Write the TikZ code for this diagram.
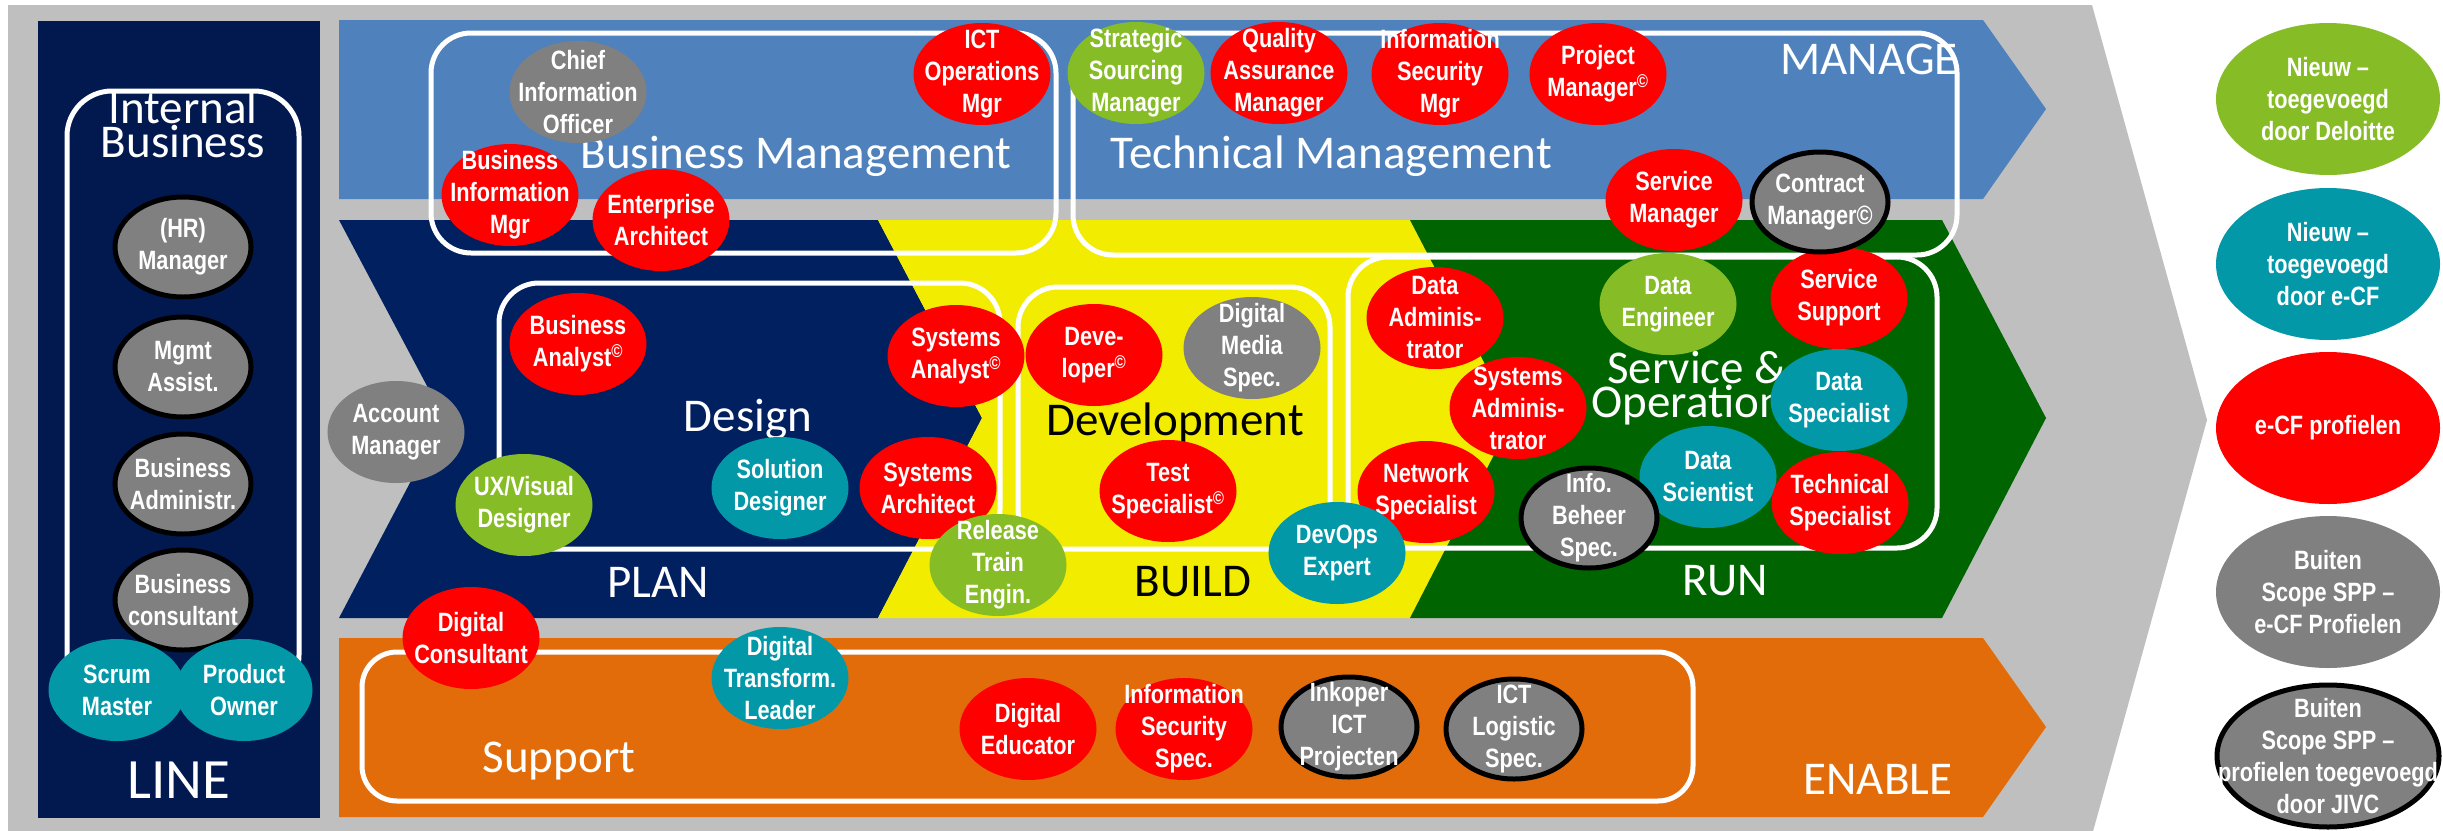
\documentclass[tikz,border=0pt]{standalone}
\usepackage{fontspec}
\setmainfont{Carlito}
\newfontfamily\rolefont[FakeStretch=0.82]{Liberation Sans}
\usetikzlibrary{shapes.geometric}

\definecolor{bggray}{RGB}{191,191,191}
\definecolor{linenavy}{RGB}{2,25,80}
\definecolor{plannavy}{RGB}{0,32,96}
\definecolor{managebl}{RGB}{79,129,189}
\definecolor{buildyel}{RGB}{242,236,0}
\definecolor{rungreen}{RGB}{0,100,0}
\definecolor{enableor}{RGB}{227,108,10}
\definecolor{ecfred}{RGB}{255,0,0}
\definecolor{ecfteal}{RGB}{3,152,168}
\definecolor{dlgreen}{RGB}{134,188,37}
\definecolor{outgray}{RGB}{128,128,128}

\begin{document}
\begin{tikzpicture}[x=1pt,y=-1pt,
  box/.style={draw=white, line width=5pt, rounded corners=40pt},
  lbl/.style={font=\fontsize{47}{27}\selectfont, text=white, inner sep=0pt, align=center},
  role/.style={ellipse, minimum width=137pt, minimum height=102pt, inner sep=0pt},
  rolebd/.style={role, draw=black, line width=5pt, minimum width=136pt, minimum height=100pt},
  roletext/.style={font=\rolefont\bfseries\fontsize{26.5}{32}\selectfont, text=white, align=center, inner sep=0pt},
  legend/.style={ellipse, minimum width=224pt, minimum height=152pt, inner sep=0pt}]
  \useasboundingbox (0,0) rectangle (2443,830);

  % background arrow and the four bands
  \fill[bggray] (8,5) -- (2092,5) -- (2207,420) -- (2092,835) -- (8,835) -- cycle;
  \fill[linenavy] (38,21) rectangle (320,818);
  \fill[managebl] (339,20) -- (1983,20) -- (2046,109) -- (1983,199) -- (339,199) -- cycle;
  \fill[plannavy] (339,220) -- (878,220) -- (982,418) -- (878,618) -- (339,618) -- (444,418) -- cycle;
  \fill[buildyel] (878,220) -- (1410,220) -- (1513,418) -- (1410,618) -- (878,618) -- (982,418) -- cycle;
  \fill[rungreen] (1410,220) -- (1942,220) -- (2046,418) -- (1942,618) -- (1410,618) -- (1513,418) -- cycle;
  \fill[enableor] (339,638) -- (1983,638) -- (2046,727) -- (1983,817) -- (339,817) -- cycle;

  \draw[box, rounded corners=45pt] (67,91) rectangle (299,700);
  \draw[box] (431,33) rectangle (1056,253);
  \draw[box] (1073,33) rectangle (1957,255);
  \draw[box] (499,283) rectangle (1000,549);
  \draw[box] (1018,287) rectangle (1330,549);
  \draw[box] (1348,257) rectangle (1937,548);
  \draw[box, rounded corners=35pt] (362,652) rectangle (1693,801);

  \node[lbl, anchor=base] (tintern) at (183,157) {Internal\\Business};
  \node[lbl, anchor=base, font=\fontsize{57}{60}\selectfont] (tline) at (179,798) {LINE};
  \node[lbl, anchor=base] (tbusmgt) at (796,168) {Business Management};
  \node[lbl, anchor=base] (ttecmgt) at (1331,168) {Technical Management};
  \node[lbl, anchor=base] (tmanage) at (1869,74) {MANAGE};
  \node[lbl, anchor=base] (tdesign) at (748,431) {Design};
  \node[lbl, anchor=base, text=black] (tdevel) at (1175,435) {Development};
  \node[lbl, anchor=base] (tservops) at (1697,417) {Service \&\\Operations};
  \node[lbl, anchor=base] (tplan) at (658,597) {PLAN};
  \node[lbl, anchor=base, text=black] (tbuild) at (1193,596) {BUILD};
  \node[lbl, anchor=base] (trun) at (1725,595) {RUN};
  \node[lbl, anchor=base] (tsupport) at (559,772) {Support};
  \node[lbl, anchor=base] (tenable) at (1878,794) {ENABLE};

  % LINE column
  \node[rolebd, fill=outgray, label={[roletext]center:{(HR)\\Manager}}] (hrm) at (183,247) {};
  \node[rolebd, fill=outgray, label={[roletext]center:{Mgmt\\Assist.}}] (mgas) at (183,367) {};
  \node[rolebd, fill=outgray, label={[roletext]center:{Business\\Administr.}}] (badm) at (183,484) {};
  \node[rolebd, fill=outgray, label={[roletext]center:{Business\\consultant}}] (bcons) at (183,600) {};
  \node[role, fill=ecfteal, label={[roletext]center:{Scrum\\Master}}] (scrum) at (117,690) {};
  \node[role, fill=ecfteal, label={[roletext]center:{Product\\Owner}}] (prodo) at (244,690) {};

  % MANAGE
  \node[role, fill=outgray, label={[roletext]center:{Chief\\Information\\Officer}}] (cio) at (578,92) {};
  \node[role, fill=ecfred, label={[roletext]center:{Business\\Information\\Mgr}}] (bim) at (510,195) {};
  \node[role, fill=ecfred, label={[roletext]center:{Enterprise\\Architect}}] (entarch) at (661,220) {};
  \node[role, fill=ecfred, label={[roletext]center:{ICT\\Operations\\Mgr}}] (ictops) at (982,74) {};
  \node[role, fill=dlgreen, label={[roletext]center:{Strategic\\Sourcing\\Manager}}] (ssm) at (1136,73) {};
  \node[role, fill=ecfred, label={[roletext]center:{Quality\\Assurance\\Manager}}] (qam) at (1279,73) {};
  \node[role, fill=ecfred, label={[roletext]center:{Information\\Security\\Mgr}}] (ism) at (1440,74) {};
  \node[role, fill=ecfred, label={[roletext]center:{Project\\Manager\textsuperscript{©}}}] (projm) at (1598,74) {};
  \node[role, fill=ecfred, label={[roletext]center:{Service\\Manager}}] (servm) at (1674,200) {};

  % PLAN
  \node[role, fill=outgray, label={[roletext]center:{Account\\Manager}}] (accm) at (396,432) {};
  \node[role, fill=ecfred, label={[roletext]center:{Business\\Analyst\textsuperscript{©}}}] (busan) at (578,344) {};
  \node[role, fill=ecfred, label={[roletext]center:{Systems\\Analyst\textsuperscript{©}}}] (sysan) at (956,356) {};
  \node[role, fill=dlgreen, label={[roletext]center:{UX/Visual\\Designer}}] (uxd) at (524,505) {};
  \node[role, fill=ecfteal, label={[roletext]center:{Solution\\Designer}}] (sold) at (780,488) {};
  \node[role, fill=ecfred, label={[roletext]center:{Systems\\Architect}}] (sysar) at (928,488) {};

  % BUILD
  \node[role, fill=ecfred, label={[roletext]center:{Deve-\\loper\textsuperscript{©}}}] (devl) at (1094,355) {};
  \node[role, fill=outgray, label={[roletext]center:{Digital\\Media\\Spec.}}] (dms) at (1252,348) {};
  \node[role, fill=dlgreen, label={[roletext]center:{Release\\Train\\Engin.}}] (rte) at (998,565) {};
  \node[role, fill=ecfred, label={[roletext]center:{Test\\Specialist\textsuperscript{©}}}] (tests) at (1168,491) {};

  % RUN
  \node[role, fill=ecfred, label={[roletext]center:{Data\\Adminis-\\trator}}] (dadm) at (1435,318) {};
  \node[role, fill=dlgreen, label={[roletext]center:{Data\\Engineer}}] (deng) at (1668,304) {};
  \node[role, fill=ecfred, label={[roletext]center:{Service\\Support}}] (ssup) at (1839,298) {};
  \node[rolebd, fill=outgray, label={[roletext]center:{Contract\\Manager©}}] (contm) at (1820,202) {};
  \node[role, fill=ecfred, label={[roletext]center:{Systems\\Adminis-\\trator}}] (sadm) at (1518,408) {};
  \node[role, fill=ecfteal, label={[roletext]center:{Data\\Specialist}}] (dspec) at (1839,400) {};
  \node[role, fill=ecfred, label={[roletext]center:{Network\\Specialist}}] (netw) at (1426,492) {};
  \node[role, fill=ecfteal, label={[roletext]center:{DevOps\\Expert}}] (devops) at (1337,553) {};
  \node[role, fill=ecfteal, label={[roletext]center:{Data\\Scientist}}] (dsci) at (1708,477) {};
  \node[rolebd, fill=outgray, label={[roletext]center:{Info.\\Beheer\\Spec.}}] (ibs) at (1589,518) {};
  \node[role, fill=ecfred, label={[roletext]center:{Technical\\Specialist}}] (techs) at (1840,503) {};

  % ENABLE
  \node[role, fill=ecfred, label={[roletext]center:{Digital\\Consultant}}] (dcons) at (471,638) {};
  \node[role, fill=ecfteal, label={[roletext]center:{Digital\\Transform.\\Leader}}] (dtl) at (780,678) {};
  \node[role, fill=ecfred, label={[roletext]center:{Digital\\Educator}}] (dedu) at (1028,729) {};
  \node[role, fill=ecfred, label={[roletext]center:{Information\\Security\\Spec.}}] (iss) at (1184,729) {};
  \node[rolebd, fill=outgray, label={[roletext]center:{Inkoper\\ICT\\Projecten}}] (inkp) at (1349,727) {};
  \node[rolebd, fill=outgray, label={[roletext]center:{ICT\\Logistic\\Spec.}}] (logs) at (1514,729) {};

  % legend
  \node[legend, fill=dlgreen, label={[roletext]center:{Nieuw –\\toegevoegd\\door Deloitte}}] (lgdel) at (2328,99) {};
  \node[legend, fill=ecfteal, label={[roletext]center:{Nieuw –\\toegevoegd\\door e-CF}}] (lgecf) at (2328,264) {};
  \node[legend, fill=ecfred, label={[roletext]center:{e-CF profielen}}] (lgprof) at (2328,428) {};
  \node[legend, fill=outgray, label={[roletext]center:{Buiten\\Scope SPP –\\e-CF Profielen}}] (lgbuit) at (2328,592) {};
  \node[legend, fill=outgray, draw=black, line width=5pt, minimum width=222pt, minimum height=142pt,
    label={[roletext]center:{Buiten\\Scope SPP –\\profielen toegevoegd\\door JIVC}}] (lgjivc) at (2328,756) {};
\end{tikzpicture}
\end{document}
